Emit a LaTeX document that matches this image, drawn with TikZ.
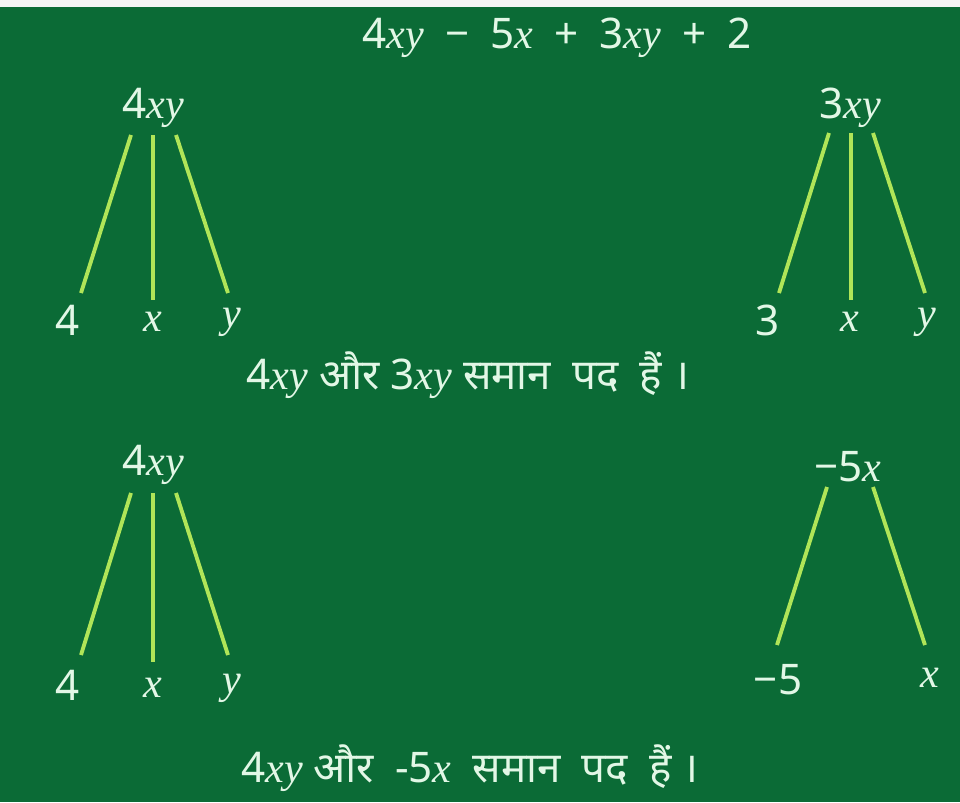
\documentclass[tikz,border=0pt]{standalone}
\usepackage{fontspec}
\setmainfont{Noto Sans}
\newfontfamily\hindi[Script=Devanagari]{Noto Sans}
\newfontfamily\varfont{Liberation Serif}
\usetikzlibrary{positioning, calc}
\definecolor{board}{HTML}{0B6B36}
\definecolor{chalk}{HTML}{E2F7E6}
\definecolor{lime}{HTML}{B0E558}
\newcommand{\vr}[1]{{\varfont\itshape #1}}

\begin{document}
\begin{tikzpicture}[x=0.2mm, y=-0.2mm,
    term/.style={text=chalk, font=\fontsize{24}{28}\selectfont, inner sep=1pt},
    note/.style={text=chalk, font=\fontsize{24}{28}\selectfont, inner sep=1pt},
    branch/.style={draw=lime, line width=2.2pt}
  ]
  \useasboundingbox (0,0) rectangle (960,802);
  \fill[white!92!gray] (0,0) rectangle (960,802);
  \fill[board] (0,7) rectangle (960,802);

  \node[term] (expr) at (557,38)
    {4\vr{xy}\enspace−\enspace5\vr{x}\enspace+\enspace3\vr{xy}\enspace+\enspace2};

  % first pair
  \node[term] (pa) at (153,108) {4\vr{xy}};
  \node[term] (pa1) at (68,320)  {4};
  \node[term] (pa2) at (153,322) {\vr{x}};
  \node[term] (pa3) at (232,322) {\vr{y}};

  \node[term] (pb) at (850,108) {3\vr{xy}};
  \node[term] (pb1) at (768,320) {3};
  \node[term] (pb2) at (850,322) {\vr{x}};
  \node[term] (pb3) at (927,322) {\vr{y}};

  \draw[branch] ($(pa)+(-22,27)$) -- ($(pa1)+(13,-27)$);
  \draw[branch] ($(pa)+(0,27)$)   -- ($(pa2)+(0,-22)$);
  \draw[branch] ($(pa)+(23,27)$)  -- ($(pa3)+(-4,-29)$);
  \draw[branch] ($(pb)+(-21,25)$) -- ($(pb1)+(11,-27)$);
  \draw[branch] ($(pb)+(1,25)$)   -- ($(pb2)+(1,-22)$);
  \draw[branch] ($(pb)+(23,25)$)  -- ($(pb3)+(-2,-29)$);

  \node[note] (sa) at (468,375)
    {4\vr{xy} {\hindi और} 3\vr{xy} {\hindi समान\enspace पद\enspace हैं ।}};

  % second pair
  \node[term] (pc) at (153,465) {4\vr{xy}};
  \node[term] (pc1) at (68,685)  {4};
  \node[term] (pc2) at (153,688) {\vr{x}};
  \node[term] (pc3) at (232,688) {\vr{y}};

  \node[term] (pd) at (848,467) {−5\vr{x}};
  \node[term] (pd1) at (778,680) {−5};
  \node[term] (pd2) at (930,678) {\vr{x}};

  \draw[branch] ($(pc)+(-22,28)$) -- ($(pc1)+(13,-30)$);
  \draw[branch] ($(pc)+(0,28)$)   -- ($(pc2)+(0,-26)$);
  \draw[branch] ($(pc)+(23,28)$)  -- ($(pc3)+(-4,-33)$);
  \draw[branch] ($(pd)+(-21,20)$) -- ($(pd1)+(-1,-35)$);
  \draw[branch] ($(pd)+(25,20)$)  -- ($(pd2)+(-5,-33)$);

  \node[note] (sb) at (470,768)
    {4\vr{xy} {\hindi और}\enspace-5\vr{x}\enspace{\hindi समान\enspace पद\enspace हैं ।}};
\end{tikzpicture}
\end{document}
